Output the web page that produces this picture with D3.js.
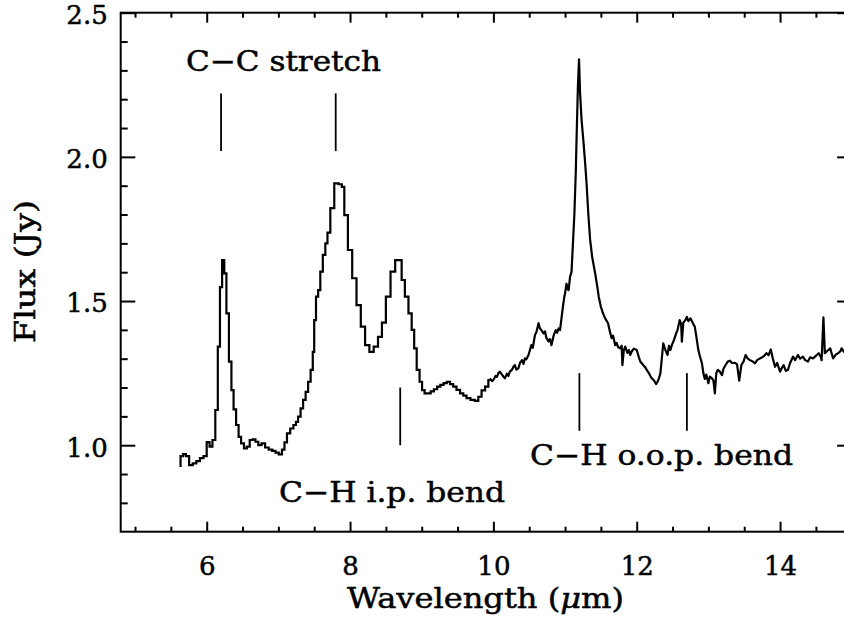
<!DOCTYPE html>
<html>
<head>
<meta charset="utf-8">
<script src="https://cdn.jsdelivr.net/npm/d3@7"></script>
<style>
  html, body { margin: 0; padding: 0; background: #fff; }
  svg { display: block; }
  text { font-family: "DejaVu Serif", serif; fill: #000; stroke: #000; stroke-width: 0.5px; }
</style>
</head>
<body>
<svg id="chart" width="844" height="619"></svg>
<script>
// ---- Data ----
// Low-resolution part (drawn as a histogram-style step line)
const lowWave = [5.62,5.65,5.69,5.73,5.78,5.83,5.88,5.93,5.98,6.02,6.06,6.10,6.14,6.17,6.20,6.23,6.26,6.29,6.33,6.36,6.39,6.43,6.46,6.50,6.54,6.58,6.62,6.66,6.70,6.74,6.79,6.84,6.89,6.94,6.98,7.03,7.07,7.10,7.14,7.19,7.23,7.26,7.29,7.33,7.36,7.40,7.43,7.47,7.49,7.51,7.54,7.57,7.60,7.64,7.67,7.70,7.75,7.81,7.87,7.90,7.94,8.00,8.06,8.12,8.18,8.24,8.30,8.36,8.42,8.47,8.53,8.60,8.66,8.70,8.74,8.79,8.84,8.88,8.91,8.95,8.99,9.02,9.06,9.10,9.15,9.19,9.24,9.28,9.33,9.37,9.42,9.46,9.51,9.56,9.60,9.65,9.71,9.77,9.81,9.86,9.91,9.95];
const lowFlux = [0.928,0.962,0.969,0.962,0.931,0.937,0.945,0.955,0.962,1.011,0.995,1.018,1.122,1.342,1.548,1.642,1.596,1.457,1.290,1.191,1.124,1.070,1.029,1.006,0.989,0.995,1.018,1.020,1.012,1.000,1.006,0.992,0.985,0.980,0.974,0.968,0.985,1.010,1.041,1.058,1.070,1.081,1.099,1.128,1.157,1.185,1.220,1.261,1.324,1.434,1.515,1.538,1.602,1.660,1.700,1.737,1.822,1.908,1.905,1.896,1.798,1.677,1.579,1.486,1.411,1.347,1.324,1.342,1.376,1.425,1.515,1.602,1.642,1.642,1.573,1.515,1.457,1.400,1.336,1.261,1.220,1.191,1.180,1.180,1.187,1.194,1.203,1.209,1.215,1.220,1.212,1.203,1.192,1.180,1.172,1.163,1.157,1.154,1.168,1.190,1.203,1.226];
// High-resolution part (drawn as a plain line)
const highWave = [9.95,9.98,10.00,10.03,10.05,10.07,10.09,10.12,10.14,10.16,10.19,10.21,10.23,10.26,10.28,10.30,10.32,10.35,10.37,10.40,10.42,10.44,10.46,10.49,10.51,10.53,10.55,10.58,10.60,10.63,10.65,10.67,10.70,10.72,10.74,10.77,10.79,10.81,10.84,10.87,10.89,10.91,10.93,10.95,10.97,10.99,11.00,11.02,11.04,11.05,11.07,11.09,11.11,11.13,11.15,11.16,11.18,11.195,11.21,11.23,11.255,11.28,11.30,11.325,11.35,11.38,11.42,11.45,11.47,11.50,11.53,11.56,11.60,11.62,11.65,11.67,11.70,11.72,11.74,11.77,11.79,11.80,11.82,11.84,11.87,11.89,11.91,11.93,11.96,12.00,12.03,12.05,12.07,12.10,12.12,12.14,12.17,12.19,12.21,12.24,12.27,12.29,12.31,12.33,12.35,12.37,12.40,12.43,12.45,12.47,12.49,12.52,12.55,12.57,12.60,12.62,12.63,12.65,12.68,12.70,12.72,12.75,12.77,12.79,12.81,12.83,12.86,12.88,12.91,12.93,12.95,12.97,13.00,13.02,13.05,13.07,13.09,13.11,13.13,13.16,13.19,13.21,13.24,13.27,13.30,13.33,13.37,13.40,13.43,13.46,13.49,13.52,13.55,13.58,13.62,13.65,13.68,13.72,13.75,13.78,13.81,13.84,13.87,13.90,13.93,13.96,14.00,14.03,14.05,14.08,14.11,14.14,14.18,14.21,14.25,14.28,14.32,14.35,14.39,14.42,14.46,14.50,14.54,14.57,14.58,14.605,14.625,14.65,14.70,14.72,14.74,14.78,14.81,14.84,14.86,14.89,14.95,15.00];
const highFlux = [1.232,1.222,1.226,1.240,1.237,1.250,1.255,1.245,1.238,1.232,1.248,1.240,1.255,1.262,1.272,1.278,1.262,1.267,1.285,1.295,1.282,1.301,1.298,1.313,1.330,1.347,1.338,1.382,1.392,1.423,1.405,1.399,1.388,1.395,1.372,1.360,1.368,1.347,1.380,1.399,1.390,1.405,1.399,1.440,1.480,1.515,1.527,1.560,1.540,1.538,1.585,1.600,1.700,1.800,1.950,2.058,2.250,2.338,2.220,2.130,2.058,1.980,1.908,1.800,1.712,1.650,1.596,1.550,1.515,1.480,1.457,1.440,1.423,1.400,1.371,1.380,1.347,1.355,1.340,1.336,1.345,1.278,1.330,1.342,1.320,1.330,1.313,1.325,1.335,1.330,1.305,1.290,1.284,1.275,1.270,1.261,1.250,1.240,1.232,1.225,1.212,1.220,1.232,1.249,1.300,1.353,1.330,1.313,1.345,1.330,1.347,1.365,1.388,1.400,1.434,1.420,1.359,1.425,1.434,1.445,1.430,1.440,1.430,1.420,1.411,1.380,1.330,1.310,1.284,1.250,1.230,1.245,1.215,1.238,1.232,1.225,1.180,1.250,1.261,1.255,1.243,1.265,1.278,1.290,1.293,1.285,1.286,1.280,1.224,1.278,1.290,1.313,1.300,1.295,1.290,1.284,1.295,1.301,1.305,1.310,1.319,1.312,1.332,1.300,1.272,1.285,1.255,1.270,1.278,1.258,1.261,1.285,1.307,1.295,1.313,1.300,1.307,1.295,1.290,1.305,1.301,1.310,1.319,1.305,1.295,1.443,1.319,1.325,1.336,1.318,1.301,1.315,1.319,1.325,1.336,1.324,1.318,1.322];

// Axis ticks
const xMajorTicks = [6, 8, 10, 12, 14];
const xMinorTicks = [5, 5.5, 6.5, 7, 7.5, 8.5, 9, 9.5, 10.5, 11, 11.5, 12.5, 13, 13.5, 14.5];
const yMajorTicks = [1.0, 1.5, 2.0, 2.5];
const yTickLabels = ["1.0", "1.5", "2.0", "2.5"];
const yMinorTicks = [0.8, 0.9, 1.1, 1.2, 1.3, 1.4, 1.6, 1.7, 1.8, 1.9, 2.1, 2.2, 2.3, 2.4];

// Feature markers
const ccMarkers = [6.2, 7.8];
const ipMarkers = [8.7];
const oopMarkers = [11.2, 12.7];

// ---- Layout ----
const svg = d3.select("#chart");
const pLeft = 120.7, pTop = 12.7, pBottom = 531.7;
const x = d3.scaleLinear().domain([4.8, 15.0]).range([pLeft, pLeft + 10.2 * 71.67]);
const y = d3.scaleLinear().domain([0.7, 2.5]).range([pBottom, pTop]);
const pRight = x(15.0);
const FS = 26;

svg.append("defs").append("clipPath").attr("id", "clip")
  .append("rect").attr("x", pLeft).attr("y", pTop).attr("width", pRight - pLeft).attr("height", pBottom - pTop);

// ---- Axes ----
function styleAxis(g) {
  g.select(".domain").remove();
  g.selectAll("line").attr("stroke", "#000").attr("stroke-width", 2);
  g.selectAll("text").style("font-size", FS + "px").style("font-family", "'DejaVu Serif', serif")
    .attr("stroke", "#000").attr("stroke-width", 0.5);
}
// bottom
svg.append("g").attr("transform", `translate(0,${pBottom})`)
  .call(d3.axisBottom(x).tickValues(xMajorTicks).tickSize(-10).tickPadding(25).tickFormat(d3.format("d")))
  .call(styleAxis);
svg.append("g").attr("transform", `translate(0,${pBottom})`)
  .call(d3.axisBottom(x).tickValues(xMinorTicks).tickSize(-5).tickFormat(""))
  .call(styleAxis);
// top
svg.append("g").attr("transform", `translate(0,${pTop})`)
  .call(d3.axisTop(x).tickValues(xMajorTicks).tickSize(-10).tickFormat(""))
  .call(styleAxis);
svg.append("g").attr("transform", `translate(0,${pTop})`)
  .call(d3.axisTop(x).tickValues(xMinorTicks).tickSize(-5).tickFormat(""))
  .call(styleAxis);
// left
svg.append("g").attr("transform", `translate(${pLeft},0)`)
  .call(d3.axisLeft(y).tickValues(yMajorTicks).tickSize(-14.6).tickPadding(13)
    .tickFormat((d, i) => yTickLabels[i]))
  .call(styleAxis)
  .selectAll("text").attr("dy", "0.42em");
svg.append("g").attr("transform", `translate(${pLeft},0)`)
  .call(d3.axisLeft(y).tickValues(yMinorTicks).tickSize(-7).tickFormat(""))
  .call(styleAxis);
// right
svg.append("g").attr("transform", `translate(${pRight},0)`)
  .call(d3.axisRight(y).tickValues(yMajorTicks).tickSize(-14.6).tickFormat(""))
  .call(styleAxis);
svg.append("g").attr("transform", `translate(${pRight},0)`)
  .call(d3.axisRight(y).tickValues(yMinorTicks).tickSize(-7).tickFormat(""))
  .call(styleAxis);

// frame
svg.append("rect").attr("x", pLeft).attr("y", pTop).attr("width", pRight - pLeft).attr("height", pBottom - pTop)
  .attr("fill", "none").attr("stroke", "#000").attr("stroke-width", 2);

// ---- Spectrum ----
const lowData = lowWave.map((w, i) => [w, lowFlux[i]]);
const highData = highWave.map((w, i) => [w, highFlux[i]]);
const plotG = svg.append("g").attr("clip-path", "url(#clip)");
plotG.append("path").datum(lowData)
  .attr("d", d3.line().x(d => x(d[0])).y(d => y(d[1])).curve(d3.curveStep))
  .attr("fill", "none").attr("stroke", "#000").attr("stroke-width", 2.2).attr("stroke-linejoin", "miter");
plotG.append("path").datum(highData)
  .attr("d", d3.line().x(d => x(d[0])).y(d => y(d[1])))
  .attr("fill", "none").attr("stroke", "#000").attr("stroke-width", 2.2).attr("stroke-linejoin", "round");

// ---- Feature markers ----
function markers(vals, y0, y1) {
  svg.append("g").selectAll("line").data(vals).join("line")
    .attr("x1", d => x(d)).attr("x2", d => x(d))
    .attr("y1", y(y0)).attr("y2", y(y1))
    .attr("stroke", "#000").attr("stroke-width", 1.8);
}
markers(ccMarkers, 2.02, 2.22);
markers(ipMarkers, 1.0, 1.2);
markers(oopMarkers, 1.05, 1.25);

// ---- Annotation text ----
function label(txt, x0, yb, len) {
  svg.append("text").attr("x", x0).attr("y", yb)
    .attr("textLength", len).attr("lengthAdjust", "spacingAndGlyphs")
    .style("font-size", "28px").text(txt);
}
label("C\u2212C stretch", 186, 71, 195);
label("C\u2212H i.p. bend", 279, 501.5, 226);
label("C\u2212H o.o.p. bend", 530, 464.5, 263);

// ---- Axis titles ----
const xt = svg.append("text").attr("x", 347).attr("y", 608)
  .attr("textLength", 277).attr("lengthAdjust", "spacingAndGlyphs")
  .style("font-size", "28px");
xt.append("tspan").text("Wavelength (");
xt.append("tspan").style("font-style", "italic").text("\u03bc");
xt.append("tspan").text("m)");

svg.append("text").attr("transform", "translate(35,343) rotate(-90)")
  .attr("textLength", 143).attr("lengthAdjust", "spacingAndGlyphs")
  .style("font-size", "28px").text("Flux (Jy)");
</script>
</body>
</html>
